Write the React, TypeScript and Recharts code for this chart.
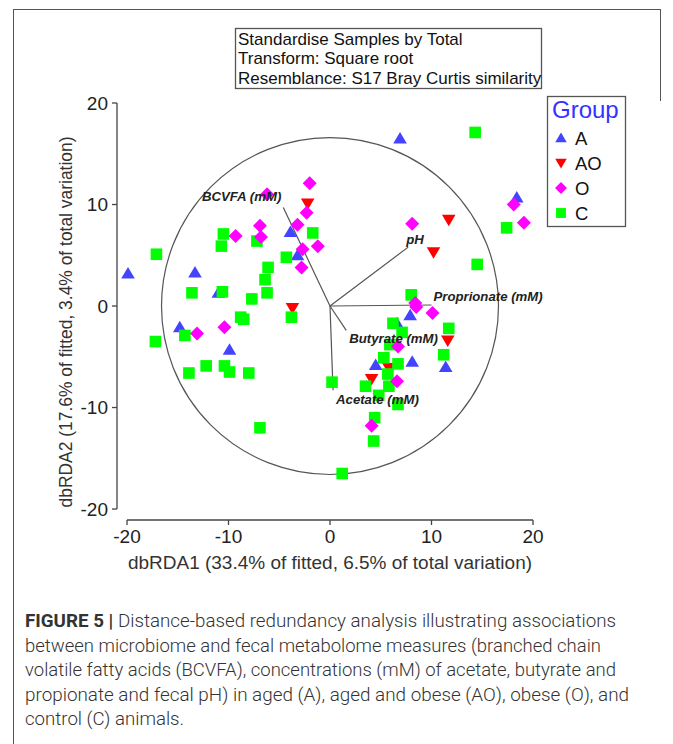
import React from "react";
import { ScatterChart, Scatter, XAxis, YAxis, ReferenceLine, ReferenceDot } from "recharts";

// sample scores (dbRDA1, dbRDA2)
const GROUP_A: [number, number][] = [
  [-19.9, 3.2], [-13.3, 3.3], [6.9, 16.5], [18.4, 10.7], [-3.9, 7.3], [-3.2, 5.0],
  [-14.8, -2.1], [-9.9, -4.3], [-11.0, 1.3], [7.9, -0.9], [6.6, -1.7], [4.5, -5.8],
  [8.1, -5.5], [11.4, -6.0],
];
const GROUP_AO: [number, number][] = [
  [-2.2, 10.1], [-3.7, -0.2], [11.7, 8.5], [10.2, 5.3], [11.6, -3.4], [5.8, -6.1], [4.1, -7.2],
];
const GROUP_O: [number, number][] = [
  [-2.0, 12.1], [-6.2, 11.0], [-2.3, 9.2], [-3.2, 8.0], [-9.3, 6.9], [-6.9, 7.9], [-6.8, 6.8],
  [-1.2, 5.9], [-2.7, 5.6], [-2.8, 3.8], [-13.1, -2.7], [-10.4, -2.1], [8.1, 8.1], [18.1, 10.0],
  [19.1, 8.2], [8.4, 0.3], [8.5, -0.1], [10.1, -0.7], [6.7, -4.0], [6.6, -7.4], [4.1, -11.8],
];
const GROUP_C: [number, number][] = [
  [14.3, 17.1], [-17.1, 5.1], [-17.2, -3.5], [-13.6, 1.3], [-10.6, 1.4], [-7.7, 0.7],
  [-8.8, -1.1], [-8.5, -1.3], [-14.3, -2.9], [-13.9, -6.6], [-12.2, -5.9], [-10.4, -5.9],
  [-9.9, -6.5], [-8.0, -6.6], [-10.5, 7.1], [-10.7, 5.9], [-7.2, 6.4], [-1.7, 7.2],
  [-4.3, 4.8], [-6.1, 3.8], [-6.4, 2.6], [-6.2, 1.3], [-3.8, -1.1], [-6.9, -12.0],
  [0.2, -7.5], [1.2, -16.5], [3.5, -7.9], [17.4, 7.7], [14.5, 4.1], [8.0, 1.1],
  [6.2, -1.7], [7.1, -2.6], [5.9, -3.8], [5.3, -5.1], [6.7, -5.7], [5.7, -6.7],
  [5.8, -7.9], [4.8, -8.8], [6.7, -9.7], [4.4, -11.0], [4.3, -13.3], [11.7, -2.2], [11.2, -4.8],
];

// predictor vectors
const VECTOR_NAMES = ["BCVFA (mM)", "pH", "Proprionate (mM)", "Butyrate (mM)", "Acetate (mM)"];
const VECTOR_X = [-4.6, 7.7, 10.0, 1.6, 0.3];
const VECTOR_Y = [9.7, 5.8, 0.1, -2.4, -8.3];
const CIRCLE_RADIUS = 16.6;

const X_TICKS = [-20, -10, 0, 10, 20];
const Y_TICKS = [-20, -10, 0, 10, 20];

const GROUPS = ["A", "AO", "O", "C"];
const GROUP_DATA: Record<string, [number, number][]> = { A: GROUP_A, AO: GROUP_AO, O: GROUP_O, C: GROUP_C };
const COLORS: Record<string, string> = { A: "#4444ff", AO: "#ff0000", O: "#ff00ff", C: "#00ff00" };
const DRAW_ORDER = ["A", "AO", "C", "O"];

const NOTE_LINES = ["Standardise Samples by Total", "Transform: Square root", "Resemblance: S17 Bray Curtis similarity"];
const CAPTION_LINES = [
  "Distance-based redundancy analysis illustrating associations",
  "between microbiome and fecal metabolome measures (branched chain",
  "volatile fatty acids (BCVFA), concentrations (mM) of acetate, butyrate and",
  "propionate and fecal pH) in aged (A), aged and obese (AO), obese (O), and",
  "control (C) animals.",
];

// layout
const W = 673;
const H = 744;
const PLOT_LEFT = 117;
const PLOT_TOP = 103;
const PLOT_W = 416;
const PLOT_H = 417;
const X_DOMAIN: [number, number] = [-20.985, 20];
const Y_DOMAIN: [number, number] = [-21.08, 20];
const PX_PER_UNIT = PLOT_W / (X_DOMAIN[1] - X_DOMAIN[0]);
const LABEL_OFFSETS = [
  { dx: -2, dy: -7, anchor: "end" },
  { dx: -2, dy: -3, anchor: "start" },
  { dx: 2, dy: -4, anchor: "start" },
  { dx: 3, dy: 13, anchor: "start" },
  { dx: 3, dy: 14, anchor: "start" },
];
const CAPTION_WIDTHS = [591, 576, 591, 604, 159];
const AXIS_COLOR = "#444";
const TEXT_COLOR = "#222";
const FONT = "Arial, 'Liberation Sans', sans-serif";

const Marker = ({ cx, cy, kind, size = 1 }: any) => {
  if (cx == null || cy == null) return null;
  const fill = COLORS[kind];
  const s = size;
  if (kind === "A")
    return <polygon points={`${cx},${cy - 6.5 * s} ${cx + 6.8 * s},${cy + 5 * s} ${cx - 6.8 * s},${cy + 5 * s}`} fill={fill} />;
  if (kind === "AO")
    return <polygon points={`${cx - 6.8 * s},${cy - 5 * s} ${cx + 6.8 * s},${cy - 5 * s} ${cx},${cy + 6.5 * s}`} fill={fill} />;
  if (kind === "O")
    return <polygon points={`${cx},${cy - 7 * s} ${cx + 7 * s},${cy} ${cx},${cy + 7 * s} ${cx - 7 * s},${cy}`} fill={fill} />;
  return <rect x={cx - 5.8 * s} y={cy - 5.8 * s} width={11.6 * s} height={11.6 * s} fill={fill} />;
};

const YTick = ({ x, y, payload }: any) => (
  <text x={x} y={y} textAnchor="end" dominantBaseline="central" fontSize={19} fill={TEXT_COLOR} fontFamily={FONT}>
    {payload.value}
  </text>
);

const XTick = ({ x, y, payload }: any) => (
  <text x={x} y={y + 14} textAnchor="middle" fontSize={19} fill={TEXT_COLOR} fontFamily={FONT}>
    {payload.value}
  </text>
);

export default function App() {
  const series = DRAW_ORDER.map((g) => ({
    group: g,
    data: GROUP_DATA[g].map(([x, y]) => ({ x, y })),
  }));

  return (
    <div style={{ position: "absolute", left: 0, top: 0, width: W, height: H, background: "#fff", overflow: "hidden" }}>
      {/* figure frame: top edge, full left edge, short right edge */}
      <div style={{ position: "absolute", left: 13, top: 9, width: 648, height: 1, background: "#555" }} />
      <div style={{ position: "absolute", left: 13, top: 9, width: 1, height: H, background: "#555" }} />
      <div style={{ position: "absolute", left: 660, top: 9, width: 1, height: 92, background: "#555" }} />

      <ScatterChart
        width={W}
        height={H}
        margin={{ top: PLOT_TOP, left: PLOT_LEFT - 60, right: W - PLOT_LEFT - PLOT_W, bottom: H - PLOT_TOP - PLOT_H - 30 }}
        style={{ position: "absolute", left: 0, top: 0 }}
      >
        <XAxis
          type="number"
          dataKey="x"
          domain={X_DOMAIN}
          allowDataOverflow
          ticks={X_TICKS}
          height={30}
          axisLine={false}
          tickSize={5}
          tickMargin={4}
          tickLine={{ stroke: AXIS_COLOR, strokeWidth: 1.3 }}
          tick={<XTick />}
        />
        <YAxis
          type="number"
          dataKey="y"
          domain={Y_DOMAIN}
          allowDataOverflow
          ticks={Y_TICKS}
          width={60}
          axisLine={false}
          tickSize={5}
          tickMargin={4}
          tickLine={{ stroke: AXIS_COLOR, strokeWidth: 1.3 }}
          tick={<YTick />}
        />
        <ReferenceLine
          segment={[{ x: X_DOMAIN[0], y: Y_TICKS[0] }, { x: X_DOMAIN[0], y: Y_TICKS[Y_TICKS.length - 1] }]}
          stroke={AXIS_COLOR}
          strokeWidth={1.3}
          ifOverflow="visible"
        />
        <ReferenceLine
          segment={[{ x: X_TICKS[0], y: Y_DOMAIN[0] }, { x: X_TICKS[X_TICKS.length - 1], y: Y_DOMAIN[0] }]}
          stroke={AXIS_COLOR}
          strokeWidth={1.3}
          ifOverflow="visible"
        />
        <ReferenceDot
          x={0}
          y={0}
          ifOverflow="visible"
          shape={(p: any) => (
            <circle cx={p.cx} cy={p.cy} r={CIRCLE_RADIUS * PX_PER_UNIT} fill="none" stroke="#555" strokeWidth={1.2} />
          )}
        />
        {VECTOR_NAMES.map((name, i) => (
          <ReferenceLine
            key={name}
            segment={[{ x: 0, y: 0 }, { x: VECTOR_X[i], y: VECTOR_Y[i] }]}
            stroke="#555"
            strokeWidth={1.2}
            ifOverflow="visible"
          />
        ))}
        {series.map((s) => (
          <Scatter
            key={s.group}
            name={s.group}
            data={s.data}
            isAnimationActive={false}
            shape={(p: any) => <Marker cx={p.cx} cy={p.cy} kind={s.group} />}
          />
        ))}
        {VECTOR_NAMES.map((name, i) => (
          <ReferenceDot
            key={"lbl-" + name}
            x={VECTOR_X[i]}
            y={VECTOR_Y[i]}
            ifOverflow="visible"
            shape={(p: any) => (
              <text
                x={p.cx + LABEL_OFFSETS[i].dx}
                y={p.cy + LABEL_OFFSETS[i].dy}
                textAnchor={LABEL_OFFSETS[i].anchor as any}
                fontSize={13.2}
                fontWeight="bold"
                fontStyle="italic"
                fill="#222"
                fontFamily={FONT}
              >
                {name}
              </text>
            )}
          />
        ))}
      </ScatterChart>

      {/* text decorations */}
      <svg width={W} height={H} style={{ position: "absolute", left: 0, top: 0, pointerEvents: "none" }}>
        <rect x={235.5} y={28.5} width={306} height={60} fill="none" stroke="#555" strokeWidth={1.3} />
        {NOTE_LINES.map((t, i) => (
          <text key={t} x={238} y={44.5 + i * 19.5} fontSize={17} fill="#111" fontFamily={FONT}>
            {t}
          </text>
        ))}
        <text
          transform="translate(72,322) rotate(-90)"
          textAnchor="middle"
          fontSize={17.5}
          fill="#333"
          fontFamily={FONT}
          textLength={371}
          lengthAdjust="spacingAndGlyphs"
        >
          dbRDA2 (17.6% of fitted, 3.4% of total variation)
        </text>
        <text
          x={330}
          y={569}
          textAnchor="middle"
          fontSize={18}
          fill="#333"
          fontFamily={FONT}
          textLength={404}
          lengthAdjust="spacingAndGlyphs"
        >
          dbRDA1 (33.4% of fitted, 6.5% of total variation)
        </text>

        {/* legend */}
        <rect x={547.5} y={96.5} width={78} height={130} fill="#fff" stroke="#555" strokeWidth={1.3} />
        <text x={552} y={118} fontSize={24} fill="#3333ff" fontFamily={FONT}>
          Group
        </text>
        {GROUPS.map((g, i) => (
          <g key={g}>
            <Marker cx={561} cy={138 + i * 25} kind={g} size={0.85} />
            <text x={575} y={138 + i * 25} dominantBaseline="central" fontSize={18.5} fill="#111" fontFamily={FONT}>
              {g}
            </text>
          </g>
        ))}

        {/* caption */}
        {CAPTION_LINES.map((t, i) => (
          <text
            key={i}
            x={25}
            y={627 + i * 24.5}
            fontSize={18}
            fill="#333"
            fontFamily="Roboto, 'Liberation Sans Narrow', sans-serif"
            fontWeight={300}
            textLength={CAPTION_WIDTHS[i]}
            lengthAdjust="spacingAndGlyphs"
          >
            {i === 0 && <tspan fontWeight={700}>FIGURE 5 | </tspan>}
            {t}
          </text>
        ))}
      </svg>
    </div>
  );
}
